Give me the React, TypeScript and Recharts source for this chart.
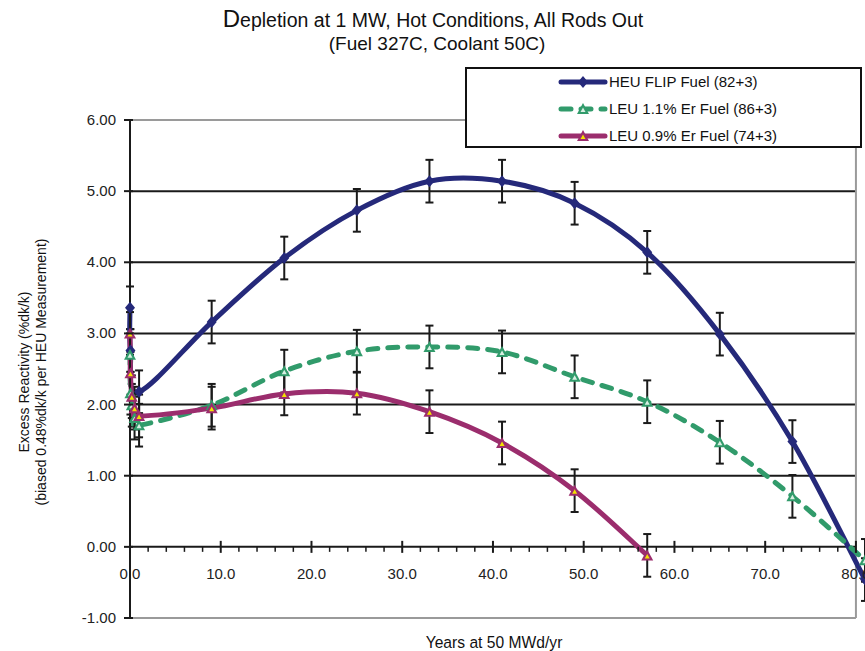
import React from 'react';
import { LineChart, Line, XAxis, YAxis, ErrorBar, ReferenceLine, Legend } from 'recharts';

// ---------------- data ----------------
const HEU_YEARS = [0, 0.05, 1, 9, 17, 25, 33, 41, 49, 57, 65, 73, 81];
const HEU_VALUES = [3.36, 2.76, 2.18, 3.16, 4.06, 4.73, 5.14, 5.14, 4.83, 4.14, 2.99, 1.48, -0.46];
const HEU_ERRORS = [0.3, 0.3, 0.3, 0.3, 0.3, 0.3, 0.3, 0.3, 0.3, 0.3, 0.3, 0.3, 0.3];

const LEU11_YEARS = [0, 0.05, 0.2, 0.5, 1, 9, 17, 25, 33, 41, 49, 57, 65, 73, 81];
const LEU11_VALUES = [2.7, 2.16, 1.99, 1.81, 1.71, 1.99, 2.47, 2.75, 2.81, 2.74, 2.39, 2.04, 1.47, 0.71, -0.19];
const LEU11_ERRORS = [0.3, 0.3, 0.3, 0.3, 0.3, 0.3, 0.3, 0.3, 0.3, 0.3, 0.3, 0.3, 0.3, 0.3, 0.3];

const LEU09_YEARS = [0, 0.05, 0.2, 0.5, 1, 9, 17, 25, 33, 41, 49, 57];
const LEU09_VALUES = [3.0, 2.44, 2.11, 1.95, 1.84, 1.95, 2.15, 2.16, 1.9, 1.46, 0.79, -0.12];
const LEU09_ERRORS = [0.3, 0.3, 0.3, 0.3, 0.3, 0.3, 0.3, 0.3, 0.3, 0.3, 0.3, 0.3];

const SERIES_NAMES = ['HEU FLIP Fuel (82+3)', 'LEU 1.1% Er Fuel (86+3)', 'LEU 0.9% Er Fuel (74+3)'];

const X_TICKS = [0, 2, 4, 6, 8, 10, 12, 14, 16, 18, 20, 22, 24, 26, 28, 30, 32, 34, 36, 38, 40, 42, 44, 46, 48, 50, 52, 54, 56, 58, 60, 62, 64, 66, 68, 70, 72, 74, 76, 78, 80];
const X_MAJOR = [0, 10, 20, 30, 40, 50, 60, 70, 80];
const Y_TICKS = [-1, 0, 1, 2, 3, 4, 5, 6];
const GRID_VALUES = [1, 2, 3, 4, 5];
const X_DOMAIN = [0, 81];
const X_END = 80;
const Y_DOMAIN = [-1, 6];

const TITLE_FIRST = 'D';
const TITLE_REST = 'epletion at 1 MW, Hot Conditions, All Rods Out';
const SUBTITLE = '(Fuel 327C, Coolant 50C)';
const Y_TITLE_1 = 'Excess Reactivity (%dk/k)';
const Y_TITLE_2 = '(biased 0.48%dk/k per HEU Measurement)';
const X_TITLE = 'Years at 50 MWd/yr';

// ---------------- styling ----------------
const W = 865;
const H = 651;
const M_TOP = 120;
const Y_AXIS_W = 130;
const X_AXIS_H = 33;
const PLOT_H = H - M_TOP - X_AXIS_H;
const ZERO_OFFSET = (PLOT_H * (0 - Y_DOMAIN[0])) / (Y_DOMAIN[1] - Y_DOMAIN[0]);

const FONT = '"Liberation Sans", Arial, Helvetica, sans-serif';
const NAVY = '#25297a';
const GREEN = '#319b6b';
const MAGENTA = '#9b2d6d';
const YELLOW = '#f3e300';
const BORDER_GRAY = '#9a9a9a';
const INK = '#1a1a1a';

const heuData = HEU_YEARS.map((x, i) => ({ x, y: HEU_VALUES[i], err: HEU_ERRORS[i] }));
const leu11Data = LEU11_YEARS.map((x, i) => ({ x, y: LEU11_VALUES[i], err: LEU11_ERRORS[i] }));
const leu09Data = LEU09_YEARS.map((x, i) => ({ x, y: LEU09_VALUES[i], err: LEU09_ERRORS[i] }));

// Excel-like smoothed line (uniform Catmull-Rom as cubic Beziers)
const excelSmooth = (context: any) => {
  let pts: number[][] = [];
  return {
    areaStart() {},
    areaEnd() {},
    lineStart() {
      pts = [];
    },
    point(x: number, y: number) {
      pts.push([+x, +y]);
    },
    lineEnd() {
      const n = pts.length;
      if (!n) return;
      context.moveTo(pts[0][0], pts[0][1]);
      for (let i = 0; i < n - 1; i++) {
        const p0 = pts[Math.max(i - 1, 0)];
        const p1 = pts[i];
        const p2 = pts[i + 1];
        const p3 = pts[Math.min(i + 2, n - 1)];
        context.bezierCurveTo(
          p1[0] + (p2[0] - p0[0]) / 6,
          p1[1] + (p2[1] - p0[1]) / 6,
          p2[0] - (p3[0] - p1[0]) / 6,
          p2[1] - (p3[1] - p1[1]) / 6,
          p2[0],
          p2[1]
        );
      }
    },
  };
};

const Diamond = ({ cx, cy, size = 5 }: any) => (
  <path d={`M${cx},${cy - size - 1}L${cx + size},${cy}L${cx},${cy + size + 1}L${cx - size},${cy}Z`} fill={NAVY} />
);
const HollowTri = ({ cx, cy }: any) => (
  <g>
    <path d={`M${cx},${cy - 6}L${cx + 6},${cy + 5}L${cx - 6},${cy + 5}Z`} fill={GREEN} />
    <path d={`M${cx},${cy - 1.5}L${cx + 2.5},${cy + 3}L${cx - 2.5},${cy + 3}Z`} fill="#d8efe2" />
  </g>
);
const YellowTri = ({ cx, cy }: any) => (
  <g>
    <path d={`M${cx},${cy - 6}L${cx + 6},${cy + 5}L${cx - 6},${cy + 5}Z`} fill={MAGENTA} />
    <path d={`M${cx},${cy - 1.5}L${cx + 2.5},${cy + 3}L${cx - 2.5},${cy + 3}Z`} fill={YELLOW} />
  </g>
);

const XTick = (props: any) => {
  const { x, y, payload } = props;
  const v = payload.value;
  const y0 = y - ZERO_OFFSET;
  const major = X_MAJOR.includes(v);
  return (
    <g>
      {major ? (
        <line x1={x} x2={x} y1={y0 - 6} y2={y0 + 6} stroke={INK} strokeWidth={2} />
      ) : (
        <line x1={x} x2={x} y1={y0} y2={y0 + 5} stroke={INK} strokeWidth={1.5} />
      )}
      {major && (
        <text x={x} y={y0 + 32} textAnchor="middle" fontSize={15} fontFamily={FONT} fill="#222">
          {v.toFixed(1)}
        </text>
      )}
    </g>
  );
};

const YTick = (props: any) => {
  const { x, y, payload } = props;
  return (
    <g>
      <line x1={x - 6} x2={x + 3} y1={y} y2={y} stroke={INK} strokeWidth={2} />
      <text x={x - 14} y={y + 5} textAnchor="end" fontSize={15} fontFamily={FONT} fill="#222">
        {payload.value.toFixed(2)}
      </text>
    </g>
  );
};

const LegendSample = ({ idx }: { idx: number }) => {
  if (idx === 0)
    return (
      <svg width={50} height={16}>
        <line x1={3} x2={47} y1={8} y2={8} stroke={NAVY} strokeWidth={5} strokeLinecap="round" />
        <Diamond cx={25} cy={8} />
      </svg>
    );
  if (idx === 1)
    return (
      <svg width={50} height={16}>
        <line x1={3} x2={47} y1={8} y2={8} stroke={GREEN} strokeWidth={5} strokeLinecap="round" strokeDasharray="10 10" />
        <HollowTri cx={25} cy={8} />
      </svg>
    );
  return (
    <svg width={50} height={16}>
      <line x1={3} x2={47} y1={8} y2={8} stroke={MAGENTA} strokeWidth={5} strokeLinecap="round" />
      <YellowTri cx={25} cy={8} />
    </svg>
  );
};

const LegendBox = () => {
  const rows = [12.7, 40.3, 67];
  return (
    <div
      style={{
        position: 'relative',
        width: 397,
        height: 81,
        boxSizing: 'border-box',
        border: '2px solid #111',
        background: '#fff',
        fontFamily: FONT,
      }}
    >
      {SERIES_NAMES.map((name, i) => (
        <div key={name} style={{ position: 'absolute', left: 91, top: rows[i] - 8, height: 16, display: 'flex', alignItems: 'center' }}>
          <LegendSample idx={i} />
          <span style={{ fontSize: 15, color: '#111', marginLeft: 1, whiteSpace: 'nowrap', lineHeight: '16px' }}>{name}</span>
        </div>
      ))}
    </div>
  );
};

export default function App() {
  return (
    <div style={{ position: 'absolute', left: 0, top: 0, width: W, height: H, background: '#fff', overflow: 'hidden' }}>
      <LineChart width={W} height={H} margin={{ top: M_TOP, right: 0, bottom: 0, left: 0 }}>
        <XAxis
          type="number"
          dataKey="x"
          domain={X_DOMAIN}
          ticks={X_TICKS}
          interval={0}
          height={X_AXIS_H}
          axisLine={false}
          tickLine={false}
          tickSize={0}
          tickMargin={0}
          tick={<XTick />}
        />
        <YAxis
          type="number"
          dataKey="y"
          domain={Y_DOMAIN}
          ticks={Y_TICKS}
          interval={0}
          width={Y_AXIS_W}
          axisLine={{ stroke: INK, strokeWidth: 2 }}
          tickLine={false}
          tickSize={0}
          tickMargin={0}
          tick={<YTick />}
        />
        {GRID_VALUES.map((v) => (
          <ReferenceLine key={`g${v}`} segment={[{ x: X_DOMAIN[0], y: v }, { x: X_END, y: v }]} stroke={INK} strokeWidth={2} />
        ))}
        <ReferenceLine segment={[{ x: X_DOMAIN[0], y: Y_DOMAIN[1] }, { x: X_END, y: Y_DOMAIN[1] }]} stroke={BORDER_GRAY} strokeWidth={2} />
        <ReferenceLine segment={[{ x: X_DOMAIN[0], y: Y_DOMAIN[0] }, { x: X_END, y: Y_DOMAIN[0] }]} stroke={BORDER_GRAY} strokeWidth={2} />
        <ReferenceLine segment={[{ x: X_END, y: Y_DOMAIN[0] }, { x: X_END, y: Y_DOMAIN[1] }]} stroke={BORDER_GRAY} strokeWidth={2} />
        <ReferenceLine segment={[{ x: X_DOMAIN[0], y: 0 }, { x: X_END, y: 0 }]} stroke={INK} strokeWidth={2} />

        <Line
          data={heuData}
          dataKey="y"
          name={SERIES_NAMES[0]}
          type={excelSmooth as any}
          stroke={NAVY}
          strokeWidth={5}
          isAnimationActive={false}
          dot={(p: any) => <Diamond key={`h${p.index}`} cx={p.cx} cy={p.cy} />}
          activeDot={false}
        >
          <ErrorBar dataKey="err" direction="y" width={4} stroke={INK} strokeWidth={2} isAnimationActive={false} />
        </Line>
        <Line
          data={leu11Data}
          dataKey="y"
          name={SERIES_NAMES[1]}
          type={excelSmooth as any}
          stroke={GREEN}
          strokeWidth={5}
          strokeDasharray="10 10"
          strokeLinecap="round"
          isAnimationActive={false}
          dot={(p: any) => <HollowTri key={`g${p.index}`} cx={p.cx} cy={p.cy} />}
          activeDot={false}
        >
          <ErrorBar dataKey="err" direction="y" width={4} stroke={INK} strokeWidth={2} isAnimationActive={false} />
        </Line>
        <Line
          data={leu09Data}
          dataKey="y"
          name={SERIES_NAMES[2]}
          type={excelSmooth as any}
          stroke={MAGENTA}
          strokeWidth={5}
          isAnimationActive={false}
          dot={(p: any) => <YellowTri key={`m${p.index}`} cx={p.cx} cy={p.cy} />}
          activeDot={false}
        >
          <ErrorBar dataKey="err" direction="y" width={4} stroke={INK} strokeWidth={2} isAnimationActive={false} />
        </Line>
        <Legend
          layout="vertical"
          align="center"
          verticalAlign="middle"
          wrapperStyle={{ position: 'absolute', left: 465, top: 67, width: 397, height: 81, margin: 0, padding: 0 }}
          content={() => <LegendBox />}
        />
      </LineChart>
      <svg width={W} height={H} style={{ position: 'absolute', left: 0, top: 0, pointerEvents: 'none' }}>
        <text x={433} y={27} textAnchor="middle" fontSize={19.5} fontFamily={FONT} fill="#111">
          <tspan fontSize={24}>{TITLE_FIRST}</tspan>
          {TITLE_REST}
        </text>
        <text x={437} y={50} textAnchor="middle" fontSize={19} fontFamily={FONT} fill="#111">
          {SUBTITLE}
        </text>
        <text transform="rotate(-90)" x={-372} y={29} textAnchor="middle" fontSize={14} fontFamily={FONT} fill="#111">
          {Y_TITLE_1}
        </text>
        <text transform="rotate(-90)" x={-372} y={46} textAnchor="middle" fontSize={14} fontFamily={FONT} fill="#111">
          {Y_TITLE_2}
        </text>
        <text x={494} y={648} textAnchor="middle" fontSize={17} fontFamily={FONT} fill="#111" transform="translate(494 0) scale(0.92 1) translate(-494 0)">
          {X_TITLE}
        </text>
      </svg>
    </div>
  );
}
